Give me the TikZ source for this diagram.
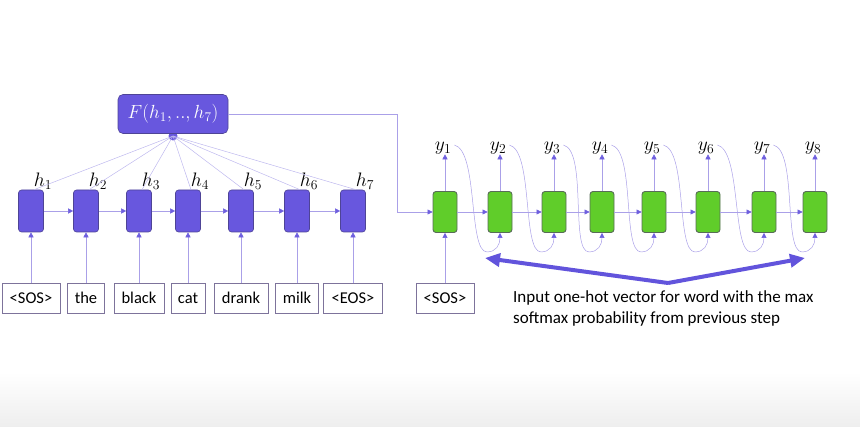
\RequirePackage{fix-cm}
\documentclass[tikz,border=0pt]{standalone}
\usepackage{fontspec}
\setmainfont{Carlito}
\usetikzlibrary{arrows.meta,calc}
\definecolor{encfill}{RGB}{104,87,222}
\definecolor{encdraw}{RGB}{78,68,150}
\definecolor{decfill}{RGB}{96,205,42}
\definecolor{decdraw}{RGB}{88,108,88}
\definecolor{thinline}{RGB}{170,160,232}
\definecolor{fanline}{RGB}{190,184,238}
\definecolor{tipcol}{RGB}{110,95,222}
\definecolor{wordedge}{RGB}{125,115,155}
\definecolor{bigarrow}{RGB}{98,84,220}
\definecolor{bandgray}{RGB}{238,238,238}
\begin{document}
\begin{tikzpicture}[x=1pt,y=-1pt,
 encbox/.style={draw=encdraw,fill=encfill,rounded corners=3pt,minimum width=25pt,minimum height=42pt,inner sep=0pt,line width=0.6pt},
 decbox/.style={draw=decdraw,fill=decfill,rounded corners=3pt,minimum width=24pt,minimum height=41pt,inner sep=0pt,line width=0.9pt},
 wordbox/.style={draw=wordedge,line width=0.6pt,minimum height=30pt,inner sep=0pt,font=\fontsize{16.5}{18}\selectfont},
 lbl/.style={inner sep=0pt,font=\fontsize{19.5}{21}\selectfont},
 conn/.style={draw=thinline,line width=0.5pt,-{Triangle[length=5pt,width=5pt,fill=tipcol,color=tipcol]}},
 fan/.style={draw=fanline,line width=0.5pt},
 big/.style={draw=bigarrow,line width=4pt,-{Triangle[length=15pt,width=13pt,fill=bigarrow]}},
 ]
\useasboundingbox (0,0) rectangle (860,427);
\shade[top color=white,bottom color=bandgray] (0,372) rectangle (860,427);

% encoder
\foreach \i/\x in {1/31,2/86,3/139,4/188,5/241,6/297,7/353}{
  \node[encbox] (e\i) at (\x,211) {};
  \node[lbl] (h\i) at (\x+12,181) {$h_{\i}$};
}
% word boxes
\node[wordbox,minimum width=58pt] (w1) at (31,298) {<SOS>};
\node[wordbox,minimum width=37pt] (w2) at (86,298) {the};
\node[wordbox,minimum width=50pt] (w3) at (139,298) {black};
\node[wordbox,minimum width=34pt] (w4) at (188,298) {cat};
\node[wordbox,minimum width=54pt] (w5) at (241,298) {drank};
\node[wordbox,minimum width=43pt] (w6) at (297,298) {milk};
\node[wordbox,minimum width=59pt] (w7) at (353,298) {<EOS>};
\node[wordbox,minimum width=58pt] (sos) at (445,298) {<SOS>};

\foreach \i in {1,...,7}{
  \draw[conn] (w\i.north) -- (e\i.south);
}
\foreach \i/\j in {1/2,2/3,3/4,4/5,5/6,6/7}{
  \draw[conn] (e\i.east) -- (e\j.west);
}

% attention node
\fill[encfill] (173,136) circle (4.5pt) coordinate (dot);
\foreach \i in {1,...,7}{
  \draw[fan] (dot) -- ($(e\i.north)+(3,0)$);
}
\node[draw=encdraw,fill=encfill,rounded corners=5pt,minimum width=110pt,minimum height=39pt,inner sep=0pt,line width=0.6pt,text=white,font=\fontsize{19}{21}\selectfont] (F) at (173,114) {$F(h_1,..,h_7)$};

% decoder
\foreach \i/\x in {1/445,2/500,3/554,4/602,5/654,6/708,7/764,8/815}{
  \node[decbox] (d\i) at (\x,212) {};
  \node[lbl] (y\i) at (\x-2,148) {$y_{\i}$};
  \draw[conn] (d\i.north) -- (d\i.north |- y\i.south);
}
\foreach \i/\j in {1/2,2/3,3/4,4/5,5/6,6/7,7/8}{
  \draw[conn] (d\i.east) -- (d\j.west);
  \draw[conn] ($(y\i.east)+(3,-3)$) .. controls +(24,6) and +(-19,0) .. ($(d\j.south)+(-13,19)$)
     .. controls +(9,0) and +(0,12) .. (d\j.south);
}
\draw[conn] (sos.north) -- (d1.south);
\coordinate (fb) at (397,212);
\draw[conn] (F.east) -| (fb) -- (d1.west);

% big arrows
\coordinate (apex) at (668,283);
\coordinate (lt) at (485,258);
\coordinate (rt) at (805,258);
\draw[big] (apex) -- (lt);
\draw[big] (apex) -- (rt);

\node[anchor=north west,align=left,inner sep=0pt,font=\fontsize{17}{21}\selectfont] (txt) at (513,290)
  {Input one-hot vector for word with the max\\softmax probability from previous step};
\end{tikzpicture}
\end{document}
